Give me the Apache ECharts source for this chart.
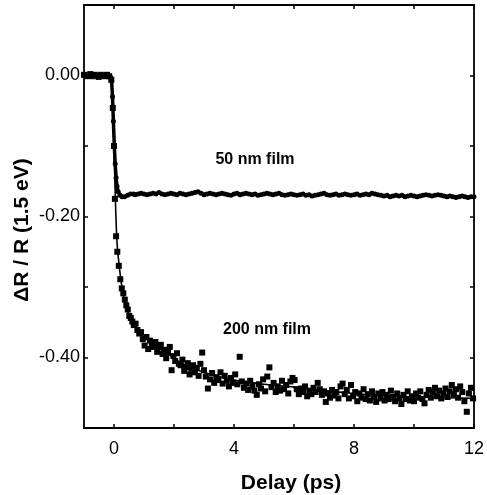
<!DOCTYPE html>
<html>
<head>
<meta charset="utf-8">
<script src="https://cdn.jsdelivr.net/npm/echarts@6/dist/echarts.min.js"></script>
<style>
html,body{margin:0;padding:0;background:#fff;}
#chart{width:487px;height:495px;}
</style>
</head>
<body>
<div id="chart"></div>
<script>
// ---- data ----
var xTickValues = [0, 2, 4, 6, 8, 10, 12];
var xLabelValues = [0, 4, 8, 12];
var yTickValues = [0, -0.1, -0.2, -0.3, -0.4];
var yLabelValues = [0, -0.2, -0.4];

// 50 nm film (dense points, appear as thick line)
var film50 = [
[-1.0,0.000],[-0.9,0.001],[-0.8,-0.001],[-0.7,0.001],[-0.6,0.000],[-0.5,-0.001],[-0.4,0.001],[-0.3,0.000],[-0.2,-0.001],
[-0.12,-0.002],[-0.08,-0.008],[-0.05,-0.030],[-0.02,-0.065],[0.01,-0.100],[0.04,-0.125],[0.07,-0.145],[0.10,-0.157],
[0.14,-0.165],[0.20,-0.170],[0.27,-0.172],[0.35,-0.172],[0.45,-0.170],[0.55,-0.168],[0.65,-0.168],
[0.7,-0.169],[0.8,-0.168],[0.9,-0.167],[1.0,-0.168],[1.1,-0.169],[1.2,-0.168],[1.3,-0.167],[1.4,-0.168],[1.5,-0.166],
[1.6,-0.168],[1.7,-0.169],[1.8,-0.168],[1.9,-0.167],[2.0,-0.168],[2.1,-0.169],[2.2,-0.167],[2.3,-0.168],[2.4,-0.169],
[2.5,-0.168],[2.6,-0.167],[2.7,-0.166],[2.8,-0.165],[2.9,-0.167],[3.0,-0.169],[3.1,-0.168],[3.2,-0.167],[3.3,-0.168],
[3.4,-0.169],[3.5,-0.168],[3.6,-0.167],[3.7,-0.168],[3.8,-0.169],[3.9,-0.170],[4.0,-0.168],[4.1,-0.167],[4.2,-0.169],
[4.3,-0.168],[4.4,-0.167],[4.5,-0.168],[4.6,-0.169],[4.7,-0.168],[4.8,-0.170],[4.9,-0.169],[5.0,-0.168],[5.1,-0.167],
[5.2,-0.168],[5.3,-0.169],[5.4,-0.168],[5.5,-0.167],[5.6,-0.169],[5.7,-0.170],[5.8,-0.169],[5.9,-0.168],[6.0,-0.169],
[6.1,-0.170],[6.2,-0.169],[6.3,-0.168],[6.4,-0.170],[6.5,-0.169],[6.6,-0.171],[6.7,-0.170],[6.8,-0.169],[6.9,-0.168],
[7.0,-0.167],[7.1,-0.169],[7.2,-0.170],[7.3,-0.169],[7.4,-0.168],[7.5,-0.170],[7.6,-0.169],[7.7,-0.168],[7.8,-0.169],
[7.9,-0.170],[8.0,-0.169],[8.1,-0.168],[8.2,-0.170],[8.3,-0.169],[8.4,-0.168],[8.5,-0.169],[8.6,-0.167],[8.7,-0.168],
[8.8,-0.169],[8.9,-0.170],[9.0,-0.171],[9.1,-0.170],[9.2,-0.172],[9.3,-0.171],[9.4,-0.170],[9.5,-0.171],[9.6,-0.170],
[9.7,-0.172],[9.8,-0.171],[9.9,-0.170],[10.0,-0.171],[10.1,-0.172],[10.2,-0.171],[10.3,-0.170],[10.4,-0.169],[10.5,-0.170],
[10.6,-0.171],[10.7,-0.170],[10.8,-0.169],[10.9,-0.170],[11.0,-0.171],[11.1,-0.172],[11.2,-0.171],[11.3,-0.172],[11.4,-0.173],
[11.5,-0.172],[11.6,-0.171],[11.7,-0.172],[11.8,-0.173],[11.9,-0.172],[12.0,-0.172]
];

// 200 nm film measured points
var film200 = [
[-1.0,0.001],[-0.93,-0.001],[-0.86,0.000],[-0.79,0.002],[-0.72,-0.001],[-0.65,0.001],[-0.58,0.000],[-0.51,-0.002],
[-0.44,0.001],[-0.37,0.000],[-0.30,-0.001],[-0.23,0.001],[-0.16,-0.001],[-0.09,-0.006],[-0.04,-0.046],
[0.00,-0.100],[0.03,-0.175],[0.07,-0.228],[0.11,-0.250],[0.16,-0.270],[0.21,-0.289],[0.26,-0.302],[0.31,-0.309],
[0.36,-0.318],[0.41,-0.326],[0.46,-0.332],[0.51,-0.341],[0.56,-0.344],[0.61,-0.349],[0.66,-0.354],[0.72,-0.352],
[0.78,-0.361],[0.84,-0.366],[0.90,-0.364],[0.96,-0.374],[1.02,-0.383],[1.08,-0.371],[1.14,-0.388],[1.20,-0.376],
[1.26,-0.381],[1.32,-0.385],[1.38,-0.378],[1.44,-0.392],[1.50,-0.384],[1.56,-0.382],[1.62,-0.395],[1.68,-0.389],
[1.74,-0.401],[1.80,-0.393],[1.86,-0.385],[1.92,-0.418],[1.98,-0.398],[2.04,-0.405],[2.10,-0.394],[2.16,-0.409],
[2.22,-0.411],[2.28,-0.403],[2.34,-0.419],[2.40,-0.414],[2.46,-0.408],[2.52,-0.424],[2.58,-0.416],[2.64,-0.411],
[2.70,-0.421],[2.76,-0.415],[2.82,-0.426],[2.88,-0.409],[2.94,-0.393],[3.00,-0.418],[3.06,-0.427],[3.13,-0.444],
[3.20,-0.431],[3.27,-0.422],[3.34,-0.436],[3.41,-0.428],[3.48,-0.432],[3.55,-0.421],[3.62,-0.437],[3.69,-0.426],
[3.76,-0.433],[3.83,-0.441],[3.90,-0.429],[3.97,-0.436],[4.04,-0.424],[4.11,-0.438],[4.19,-0.399],[4.26,-0.434],
[4.33,-0.443],[4.40,-0.437],[4.47,-0.446],[4.54,-0.433],[4.61,-0.441],[4.68,-0.447],[4.76,-0.453],[4.83,-0.438],
[4.90,-0.444],[4.97,-0.431],[5.04,-0.448],[5.11,-0.427],[5.18,-0.414],[5.25,-0.442],[5.32,-0.436],[5.39,-0.449],
[5.46,-0.441],[5.53,-0.447],[5.60,-0.433],[5.67,-0.445],[5.74,-0.439],[5.81,-0.451],[5.88,-0.434],[5.95,-0.429],
[6.02,-0.432],[6.09,-0.445],[6.16,-0.452],[6.23,-0.444],[6.30,-0.449],[6.37,-0.441],[6.44,-0.455],[6.51,-0.447],
[6.58,-0.452],[6.65,-0.443],[6.72,-0.449],[6.79,-0.436],[6.86,-0.445],[6.93,-0.453],[7.00,-0.448],[7.06,-0.463],
[7.13,-0.451],[7.20,-0.457],[7.27,-0.446],[7.34,-0.454],[7.41,-0.449],[7.48,-0.458],[7.55,-0.441],[7.62,-0.437],
[7.69,-0.452],[7.76,-0.446],[7.83,-0.458],[7.90,-0.439],[7.97,-0.455],[8.04,-0.449],[8.11,-0.462],[8.18,-0.451],
[8.25,-0.457],[8.32,-0.445],[8.39,-0.459],[8.46,-0.452],[8.53,-0.461],[8.60,-0.448],[8.67,-0.456],[8.74,-0.463],
[8.81,-0.451],[8.88,-0.458],[8.95,-0.449],[9.02,-0.461],[9.09,-0.453],[9.16,-0.459],[9.23,-0.447],[9.30,-0.456],
[9.37,-0.462],[9.44,-0.451],[9.51,-0.458],[9.58,-0.466],[9.65,-0.453],[9.72,-0.459],[9.79,-0.448],[9.86,-0.461],
[9.93,-0.455],[10.00,-0.462],[10.07,-0.451],[10.14,-0.457],[10.21,-0.448],[10.28,-0.459],[10.35,-0.465],[10.42,-0.453],
[10.49,-0.446],[10.56,-0.457],[10.63,-0.449],[10.70,-0.443],[10.77,-0.455],[10.84,-0.447],[10.91,-0.458],[10.98,-0.451],
[11.05,-0.444],[11.12,-0.456],[11.19,-0.448],[11.26,-0.439],[11.33,-0.452],[11.40,-0.445],[11.47,-0.457],[11.54,-0.441],
[11.61,-0.449],[11.68,-0.462],[11.76,-0.477],[11.83,-0.451],[11.90,-0.443],[11.97,-0.458]
];

// 200 nm film fit curve
var fit200 = [
[-1.0,0.0],[-0.15,0.0],[-0.10,-0.002],[-0.07,-0.010],[-0.03,-0.060],[0.00,-0.100],[0.03,-0.150],[0.06,-0.195],
[0.09,-0.228],[0.12,-0.248],[0.17,-0.268],[0.22,-0.287],[0.28,-0.304],[0.35,-0.319],[0.45,-0.334],[0.55,-0.344],
[0.70,-0.355],[0.85,-0.364],[1.0,-0.371],[1.2,-0.378],[1.5,-0.387],[1.8,-0.395],[2.1,-0.404],[2.5,-0.413],
[3.0,-0.421],[3.5,-0.427],[4.0,-0.432],[4.5,-0.435],[5.0,-0.438],[6.0,-0.442],[7.0,-0.447],[8.0,-0.451],
[9.0,-0.454],[10.0,-0.456],[11.0,-0.457],[12.0,-0.458]
];

var xTitle = 'Delay (ps)';
var yTitle = '\u0394R / R (1.5 eV)';
var label50 = '50 nm film';
var label200 = '200 nm film';

var FONT = '"Liberation Sans", Arial, Helvetica, sans-serif';
var chart = echarts.init(document.getElementById('chart'), null, {renderer: 'canvas'});

function baseX(pos, showLabels) {
  return {
    type: 'value', position: pos, min: -1, max: 12,
    axisLine: {show: true, onZero: false, lineStyle: {color: '#000', width: 1.8}},
    axisTick: {show: true, inside: true, length: 4, customValues: xTickValues, lineStyle: {color: '#000', width: 1.5}},
    axisLabel: {show: showLabels, customValues: xLabelValues, margin: 12, color: '#000', fontSize: 18, fontFamily: FONT},
    splitLine: {show: false}
  };
}
function baseY(pos, showLabels) {
  return {
    type: 'value', position: pos, min: -0.5, max: 0.1,
    axisLine: {show: true, onZero: false, lineStyle: {color: '#000', width: 1.8}},
    axisTick: {show: true, inside: true, length: 4, customValues: yTickValues, lineStyle: {color: '#000', width: 1.5}},
    axisLabel: {show: showLabels, customValues: yLabelValues, margin: 4, color: '#000', fontSize: 18, fontFamily: FONT,
      formatter: function (v) { return v.toFixed(2); }},
    splitLine: {show: false}
  };
}

var option = {
  backgroundColor: '#fff',
  animation: false,
  grid: {left: 84, right: 10, top: 5, bottom: 67, containLabel: false},
  xAxis: [baseX('bottom', true), baseX('top', false)],
  yAxis: [baseY('left', true), baseY('right', false)],
  series: [
    {
      type: 'line', name: '50 nm', data: film50, xAxisIndex: 0, yAxisIndex: 0,
      showSymbol: true, symbol: 'circle', symbolSize: 5,
      itemStyle: {color: '#000', opacity: 1}, lineStyle: {color: '#000', width: 3.5}, z: 3
    },
    {
      type: 'line', name: '200 nm fit', data: fit200, xAxisIndex: 0, yAxisIndex: 0,
      showSymbol: false, smooth: 0.3, lineStyle: {color: '#000', width: 1.6}, z: 2
    },
    {
      type: 'scatter', name: '200 nm', data: film200, xAxisIndex: 0, yAxisIndex: 0,
      symbol: 'rect', symbolSize: 6, itemStyle: {color: '#000', opacity: 1}, z: 4
    }
  ],
  graphic: [
    {type: 'text', x: 291, y: 483, style: {text: xTitle, fill: '#000', font: 'bold 21px ' + FONT, textAlign: 'center', textVerticalAlign: 'middle'}},
    {type: 'text', x: 22, y: 230, rotation: Math.PI / 2, style: {text: yTitle, fill: '#000', font: 'bold 21px ' + FONT, textAlign: 'center', textVerticalAlign: 'middle'}},
    {type: 'text', x: 255, y: 160, style: {text: label50, fill: '#000', font: 'bold 16px ' + FONT, textAlign: 'center', textVerticalAlign: 'middle'}},
    {type: 'text', x: 267, y: 330, style: {text: label200, fill: '#000', font: 'bold 16px ' + FONT, textAlign: 'center', textVerticalAlign: 'middle'}}
  ]
};
chart.setOption(option);
</script>
</body>
</html>
